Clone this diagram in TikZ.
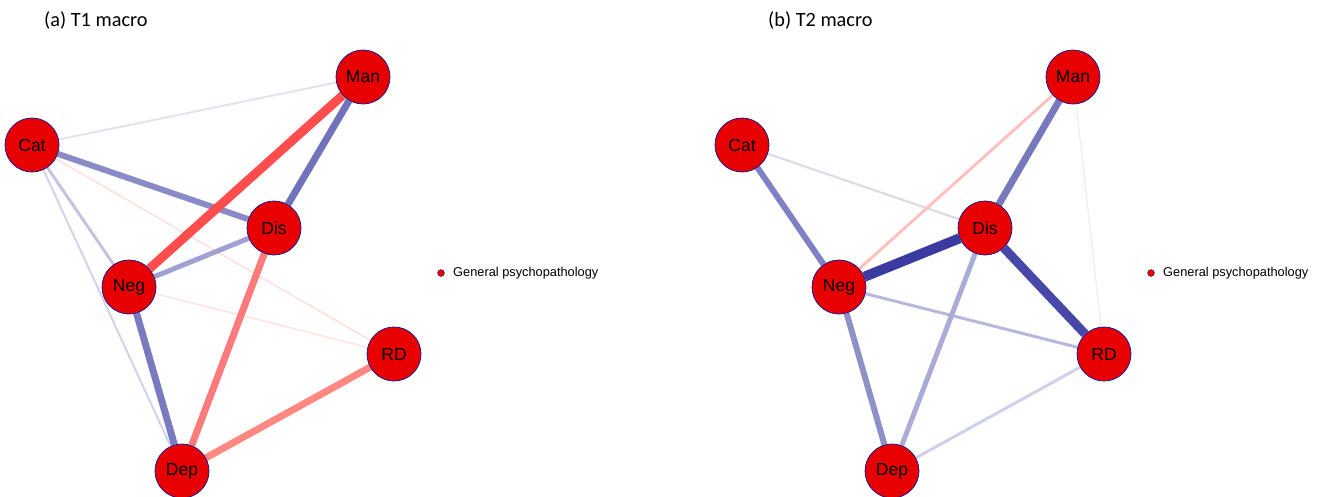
\documentclass[tikz,border=0pt]{standalone}
\usepackage{fontspec}
\setmainfont{Liberation Sans}
\newfontfamily\titlefont{Carlito}
\usetikzlibrary{backgrounds}
\definecolor{nodered}{HTML}{E80000}
\definecolor{nodeborder}{HTML}{1C1C8C}
% panel a edge colours
\definecolor{aCatMan}{HTML}{E2E2F2}
\definecolor{aCatRD}{HTML}{FFDEDE}
\definecolor{aCatDep}{HTML}{D2D2EA}
\definecolor{aCatNeg}{HTML}{C4C4E2}
\definecolor{aNegRD}{HTML}{FFE2E2}
\definecolor{aCatDis}{HTML}{8A8AC6}
\definecolor{aDisNeg}{HTML}{A0A0D4}
\definecolor{aManDis}{HTML}{7272BC}
\definecolor{aManNeg}{HTML}{FF4C4C}
\definecolor{aNegDep}{HTML}{7A7AC0}
\definecolor{aDisDep}{HTML}{FF7A7A}
\definecolor{aRDDep}{HTML}{FF8880}
% panel b edge colours
\definecolor{bManRD}{HTML}{ECECF6}
\definecolor{bCatDis}{HTML}{D8D8EC}
\definecolor{bManNeg}{HTML}{FFC0C0}
\definecolor{bRDDep}{HTML}{D0D0EA}
\definecolor{bNegRD}{HTML}{B8B8DC}
\definecolor{bDisDep}{HTML}{ABABD8}
\definecolor{bNegDep}{HTML}{9090C8}
\definecolor{bCatNeg}{HTML}{8080C4}
\definecolor{bManDis}{HTML}{7878BC}
\definecolor{bDisRD}{HTML}{4848A8}
\definecolor{bNegDis}{HTML}{3A3AA0}
\begin{document}
\begin{tikzpicture}[x=1pt,y=-1pt,
  vnode/.style={circle,fill=nodered,draw=nodeborder,line width=0.8pt,minimum size=54pt,inner sep=0pt,font=\fontsize{17.5}{17.5}\selectfont},
  ttl/.style={anchor=west,inner sep=0pt,font=\titlefont\fontsize{20.3}{21}\selectfont},
  leg/.style={anchor=west,inner sep=0pt,font=\fontsize{12.8}{13}\selectfont},
  legdot/.style={circle,fill=nodered,draw=nodeborder,line width=0.3pt,minimum size=7pt,inner sep=0pt},
  e/.style n args={2}{draw=#1,line width=#2pt}]
\useasboundingbox (0,0) rectangle (1320,496);
% panel a
\node[ttl] (ta) at (44,20) {(a) T1 macro};
\node[vnode] (aMan) at (363,77) {Man};
\node[vnode] (aCat) at (32,145) {Cat};
\node[vnode] (aDis) at (274,228) {Dis};
\node[vnode] (aNeg) at (129,287) {Neg};
\node[vnode] (aRD)  at (394,354) {RD};
\node[vnode] (aDep) at (182,471) {Dep};
\node[legdot] (ad) at (441,273) {};
\node[leg] (al) at (453,273) {General psychopathology};
% panel b
\node[ttl] (tb) at (768,20) {(b) T2 macro};
\node[vnode] (bMan) at (1073,77) {Man};
\node[vnode] (bCat) at (742,145) {Cat};
\node[vnode] (bDis) at (985,228) {Dis};
\node[vnode] (bNeg) at (839,287) {Neg};
\node[vnode] (bRD)  at (1104,354) {RD};
\node[vnode] (bDep) at (892,471) {Dep};
\node[legdot] (bd) at (1151,273) {};
\node[leg] (bl) at (1163,273) {General psychopathology};
\begin{scope}[on background layer]
% panel a edges
\draw[e={aCatMan}{2}] (aCat) -- (aMan);
\draw[e={aCatRD}{1.5}] (aCat) -- (aRD);
\draw[e={aCatDep}{2}] (aCat) -- (aDep);
\draw[e={aCatNeg}{3}] (aCat) -- (aNeg);
\draw[e={aNegRD}{1.5}] (aNeg) -- (aRD);
\draw[e={aCatDis}{6}] (aCat) -- (aDis);
\draw[e={aDisNeg}{5}] (aDis) -- (aNeg);
\draw[e={aManDis}{7}] (aMan) -- (aDis);
\draw[e={aManNeg}{9}] (aMan) -- (aNeg);
\draw[e={aNegDep}{7}] (aNeg) -- (aDep);
\draw[e={aDisDep}{7}] (aDis) -- (aDep);
\draw[e={aRDDep}{7}] (aRD) -- (aDep);
% panel b edges
\draw[e={bManRD}{1.2}] (bMan) -- (bRD);
\draw[e={bCatDis}{2}] (bCat) -- (bDis);
\draw[e={bManNeg}{3}] (bMan) -- (bNeg);
\draw[e={bRDDep}{3}] (bRD) -- (bDep);
\draw[e={bNegRD}{3}] (bNeg) -- (bRD);
\draw[e={bDisDep}{5}] (bDis) -- (bDep);
\draw[e={bNegDep}{6}] (bNeg) -- (bDep);
\draw[e={bCatNeg}{6}] (bCat) -- (bNeg);
\draw[e={bManDis}{7}] (bMan) -- (bDis);
\draw[e={bDisRD}{9}] (bDis) -- (bRD);
\draw[e={bNegDis}{10}] (bNeg) -- (bDis);
\end{scope}
\end{tikzpicture}
\end{document}
